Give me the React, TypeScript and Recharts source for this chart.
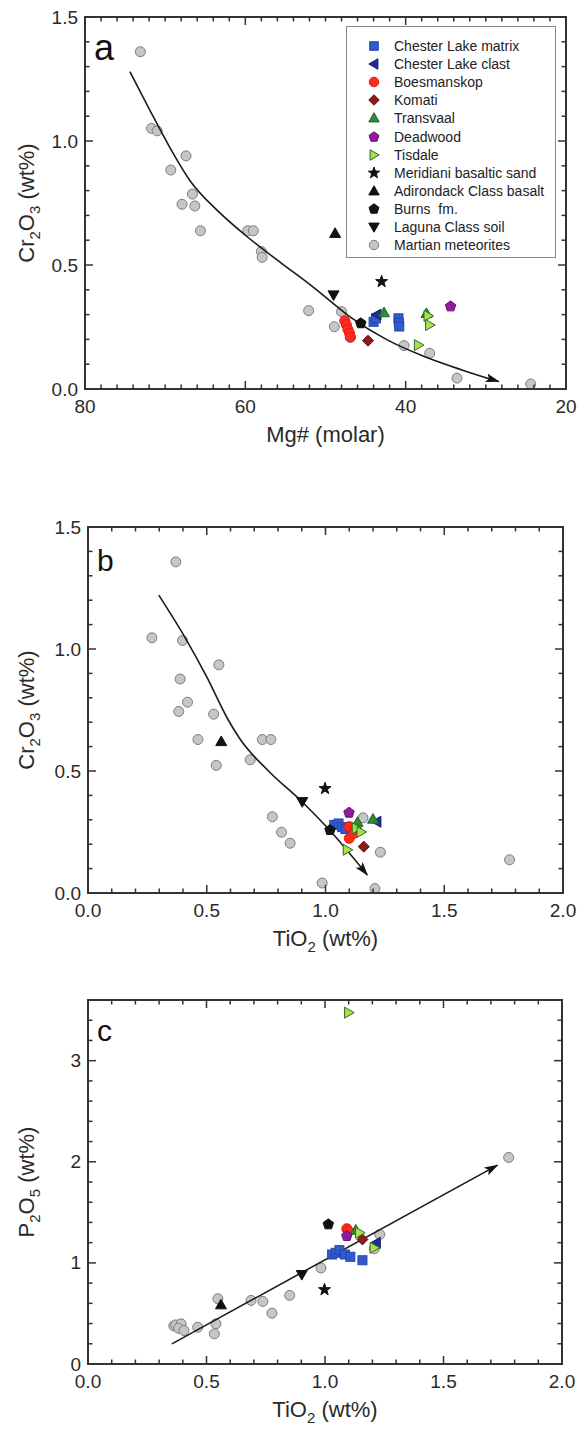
import React from 'react';
import { ScatterChart, Scatter, XAxis, YAxis, Legend, Label } from 'recharts';

type P = [number, number];

// ---------- Panel a : Mg# (molar) vs Cr2O3 ----------
const meteoritesA: P[] = [[73.1, 1.36], [71.7, 1.051], [71.0, 1.041], [69.3, 0.883], [67.4, 0.94], [67.9, 0.745], [66.6, 0.786], [66.3, 0.738], [65.6, 0.638], [59.7, 0.638], [59.0, 0.638], [58.0, 0.554], [57.9, 0.531], [52.1, 0.316], [48.9, 0.251], [48.0, 0.312], [46.9, 0.208], [40.2, 0.175], [37.0, 0.144], [33.6, 0.044], [24.4, 0.02]];
const chesterMatrixA: P[] = [[44.0, 0.271], [43.7, 0.285], [40.9, 0.285], [40.85, 0.268], [40.8, 0.252]];
const chesterClastA: P[] = [[43.6, 0.3]];
const boesmanskopA: P[] = [[47.6, 0.275], [47.4, 0.259], [47.2, 0.24], [47.0, 0.225], [46.9, 0.21]];
const komatiA: P[] = [[44.7, 0.195]];
const transvaalA: P[] = [[42.7, 0.308], [37.4, 0.305]];
const deadwoodA: P[] = [[34.4, 0.333]];
const tisdaleA: P[] = [[37.2, 0.295], [37.0, 0.258], [38.4, 0.177]];
const meridianiA: P[] = [[43.0, 0.433]];
const adirondackA: P[] = [[48.8, 0.628]];
const burnsA: P[] = [[45.6, 0.265]];
const lagunaA: P[] = [[49.0, 0.379]];
const trendA: P[] = [[74.4, 1.28], [72, 1.13], [69, 0.95], [66.9, 0.84], [63.5, 0.72], [60, 0.62], [55.6, 0.51], [51.5, 0.41], [46.9, 0.29], [42.3, 0.198], [37.6, 0.13], [33, 0.077], [28.4, 0.03]];

// ---------- Panel b : TiO2 vs Cr2O3 ----------
const meteoritesB: P[] = [[0.37, 1.357], [0.269, 1.046], [0.398, 1.035], [0.551, 0.935], [0.388, 0.877], [0.419, 0.782], [0.382, 0.744], [0.529, 0.733], [0.463, 0.629], [0.734, 0.629], [0.77, 0.629], [0.54, 0.523], [0.683, 0.546], [0.776, 0.3125], [0.815, 0.249], [0.851, 0.204], [1.158, 0.308], [1.231, 0.167], [1.775, 0.136], [0.986, 0.041], [1.208, 0.018]];
const chesterMatrixB: P[] = [[1.037, 0.279], [1.055, 0.285], [1.07, 0.27], [1.084, 0.262], [1.107, 0.268]];
const chesterClastB: P[] = [[1.216, 0.292]];
const boesmanskopB: P[] = [[1.1, 0.272], [1.1, 0.224], [1.12, 0.245]];
const komatiB: P[] = [[1.161, 0.19]];
const transvaalB: P[] = [[1.2, 0.303], [1.135, 0.29]];
const deadwoodB: P[] = [[1.099, 0.329]];
const tisdaleB: P[] = [[1.13, 0.265], [1.15, 0.25], [1.092, 0.177]];
const meridianiB: P[] = [[0.998, 0.428]];
const adirondackB: P[] = [[0.561, 0.621]];
const burnsB: P[] = [[1.019, 0.258]];
const lagunaB: P[] = [[0.902, 0.374]];
const trendB: P[] = [[0.298, 1.221], [0.407, 1.05], [0.5, 0.886], [0.59, 0.71], [0.64, 0.631], [0.76, 0.5], [0.901, 0.374], [1.029, 0.245], [1.176, 0.074]];

// ---------- Panel c : TiO2 vs P2O5 ----------
const meteoritesC: P[] = [[0.362, 0.377], [0.37, 0.387], [0.393, 0.397], [0.382, 0.354], [0.405, 0.331], [0.463, 0.364], [0.54, 0.397], [0.533, 0.298], [0.548, 0.646], [0.688, 0.629], [0.738, 0.619], [0.776, 0.503], [0.851, 0.679], [0.983, 0.95], [1.231, 1.281], [1.208, 1.139], [1.775, 2.043]];
const chesterMatrixC: P[] = [[1.03, 1.083], [1.045, 1.1], [1.061, 1.126], [1.084, 1.083], [1.107, 1.06], [1.158, 1.026]];
const chesterClastC: P[] = [[1.216, 1.199]];
const boesmanskopC: P[] = [[1.092, 1.338], [1.099, 1.315]];
const komatiC: P[] = [[1.158, 1.232]];
const transvaalC: P[] = [[1.13, 1.325]];
const deadwoodC: P[] = [[1.092, 1.265]];
const tisdaleC: P[] = [[1.146, 1.298], [1.208, 1.149], [1.1, 3.475]];
const meridianiC: P[] = [[0.998, 0.735]];
const adirondackC: P[] = [[0.561, 0.586]];
const burnsC: P[] = [[1.014, 1.381]];
const lagunaC: P[] = [[0.902, 0.884]];
const trendC: P[] = [[0.354, 0.199], [1.728, 1.967]];

// ---------- Axis ticks ----------
const mgMajor = [80, 60, 40, 20];
const crMajor = [0, 0.5, 1.0, 1.5];
const tiMajor = [0, 0.5, 1.0, 1.5, 2.0];
const pMajor = [0, 1, 2, 3];

const range = (a: number, b: number, s: number) => {
  const out: number[] = [];
  for (let v = a; v <= b + 1e-9; v += s) out.push(Math.round(v * 1000) / 1000);
  return out;
};
const mgTicks = range(20, 80, 2);
const crTicks = range(0, 1.5, 0.1);
const tiTicks = range(0, 2, 0.1);
const pTicks = range(0, 3.6, 0.2);

const FONT = '"Liberation Sans", Arial, Helvetica, sans-serif';
const INK = '#2a2a2a';
const FRAME = '#333333';

type Kind = 'square' | 'triLeft' | 'circle' | 'diamond' | 'triUp' | 'pentagon' | 'triRight' | 'star' | 'triDown';
interface Sty { name: string; kind: Kind; fill: string; stroke: string; size: number }

const legendOrder: Sty[] = [
  { name: 'Chester Lake matrix', kind: 'square', fill: '#2f5bcf', stroke: '#2446a8', size: 10 },
  { name: 'Chester Lake clast', kind: 'triLeft', fill: '#1f2e9c', stroke: '#15206e', size: 11 },
  { name: 'Boesmanskop', kind: 'circle', fill: '#ff2b1c', stroke: '#e01a10', size: 10 },
  { name: 'Komati', kind: 'diamond', fill: '#8d1b1b', stroke: '#5e0f0f', size: 11 },
  { name: 'Transvaal', kind: 'triUp', fill: '#2f8c36', stroke: '#1e6624', size: 11 },
  { name: 'Deadwood', kind: 'pentagon', fill: '#8f1c9c', stroke: '#6a1273', size: 11 },
  { name: 'Tisdale', kind: 'triRight', fill: '#a8e04c', stroke: '#2f6d1c', size: 11 },
  { name: 'Meridiani basaltic sand', kind: 'star', fill: '#111', stroke: '#111', size: 12 },
  { name: 'Adirondack Class basalt', kind: 'triUp', fill: '#111', stroke: '#111', size: 11 },
  { name: 'Burns  fm.', kind: 'pentagon', fill: '#111', stroke: '#111', size: 11 },
  { name: 'Laguna Class soil', kind: 'triDown', fill: '#111', stroke: '#111', size: 11 },
  { name: 'Martian meteorites', kind: 'circle', fill: '#c6c6c6', stroke: '#7d7d7d', size: 10 },
];

const Glyph = ({ kind, cx, cy, s, fill, stroke }: { kind: Kind; cx: number; cy: number; s: number; fill: string; stroke: string }) => {
  const h = s / 2;
  const common = { fill, stroke, strokeWidth: 1 };
  const poly = (pts: number[][]) => <polygon points={pts.map((p) => `${p[0]},${p[1]}`).join(' ')} {...common} />;
  switch (kind) {
    case 'circle':
      return <circle cx={cx} cy={cy} r={h} {...common} />;
    case 'square':
      return <rect x={cx - h * 0.9} y={cy - h * 0.9} width={s * 0.9} height={s * 0.9} {...common} />;
    case 'triUp':
      return poly([[cx, cy - h], [cx + h, cy + h * 0.75], [cx - h, cy + h * 0.75]]);
    case 'triDown':
      return poly([[cx, cy + h], [cx + h, cy - h * 0.75], [cx - h, cy - h * 0.75]]);
    case 'triLeft':
      return poly([[cx - h, cy], [cx + h * 0.75, cy - h], [cx + h * 0.75, cy + h]]);
    case 'triRight':
      return poly([[cx + h, cy], [cx - h * 0.75, cy - h], [cx - h * 0.75, cy + h]]);
    case 'diamond':
      return poly([[cx, cy - h], [cx + h, cy], [cx, cy + h], [cx - h, cy]]);
    case 'pentagon': {
      const pts: number[][] = [];
      for (let i = 0; i < 5; i++) {
        const a = -Math.PI / 2 + (i * 2 * Math.PI) / 5;
        pts.push([cx + h * Math.cos(a), cy + h * Math.sin(a)]);
      }
      return poly(pts);
    }
    case 'star': {
      const pts: number[][] = [];
      for (let i = 0; i < 10; i++) {
        const a = -Math.PI / 2 + (i * Math.PI) / 5;
        const r = i % 2 === 0 ? h * 1.05 : h * 0.42;
        pts.push([cx + r * Math.cos(a), cy + r * Math.sin(a)]);
      }
      return poly(pts);
    }
  }
  return null;
};

const shapeOf = (st: Sty) => (p: any) => <Glyph kind={st.kind} cx={p.cx} cy={p.cy} s={st.size} fill={st.fill} stroke={st.stroke} />;

const toPts = (arr: P[]) => arr.map(([x, y]) => ({ x, y }));

const isMajor = (majors: number[], v: number) => majors.some((m) => Math.abs(m - v) < 1e-6);

const makeLabel = (side: 'bottom' | 'left', majors: number[], fmt: (v: number) => string) => (props: any) => {
  const { x, y, payload } = props;
  const v = payload.value as number;
  if (!isMajor(majors, v)) return <g />;
  if (side === 'bottom')
    return <text x={x} y={y + 24} textAnchor="middle" fontSize={19} fontFamily={FONT} fill={INK}>{fmt(v)}</text>;
  return <text x={x - 7} y={y + 6.5} textAnchor="end" fontSize={19} fontFamily={FONT} fill={INK}>{fmt(v)}</text>;
};

type Edge = 'b' | 't' | 'l' | 'r';
const tickShape = (edge: Edge) => (props: any) => {
  const { cx, cy } = props;
  const major = props.payload ? props.payload.major : props.major;
  const len = major ? 8 : 4.5;
  const w = 1.5;
  if (edge === 'b') return <rect x={cx - w / 2} y={cy - len} width={w} height={len} fill={FRAME} />;
  if (edge === 't') return <rect x={cx - w / 2} y={cy} width={w} height={len} fill={FRAME} />;
  if (edge === 'l') return <rect x={cx} y={cy - w / 2} width={len} height={w} fill={FRAME} />;
  return <rect x={cx - len} y={cy - w / 2} width={len} height={w} fill={FRAME} />;
};
const tickShapes = { b: tickShape('b'), t: tickShape('t'), l: tickShape('l'), r: tickShape('r') };

const CR_TITLE: [string, boolean][] = [['Cr', false], ['2', true], ['O', false], ['3', true], [' (wt%)', false]];
const P_TITLE: [string, boolean][] = [['P', false], ['2', true], ['O', false], ['5', true], [' (wt%)', false]];
const TI_TITLE: [string, boolean][] = [['TiO', false], ['2', true], [' (wt%)', false]];
const MG_TITLE: [string, boolean][] = [['Mg# (molar)', false]];

const rich = (parts: [string, boolean][]) => {
  let shifted = false;
  return parts.map(([t, sub], i) => {
    let dy = 0;
    if (sub && !shifted) { dy = 6; shifted = true; }
    else if (!sub && shifted) { dy = -6; shifted = false; }
    return (
      <tspan key={i} dy={dy || undefined} fontSize={sub ? '68%' : undefined}>{t}</tspan>
    );
  });
};

const yTitle = (parts: [string, boolean][], letter: string, letterSize: number, letterDy: number) => (props: any) => {
  const vb = props.viewBox || {};
  const cy = vb.y + vb.height / 2;
  const bx = 34;
  return (
    <g>
      <text x={bx} y={cy} transform={`rotate(-90, ${bx}, ${cy})`} textAnchor="middle" fontSize={22} fontFamily={FONT} fill={INK}>
        {rich(parts)}
      </text>
      <text x={vb.x + vb.width + 9} y={vb.y + letterDy} fontSize={letterSize} fontFamily={FONT} fill="#111">
        {letter}
      </text>
    </g>
  );
};

const xTitle = (parts: [string, boolean][]) => (props: any) => {
  const vb = props.viewBox || {};
  const cx = vb.x + vb.width / 2;
  return (
    <text x={cx} y={vb.y + 53} textAnchor="middle" fontSize={22} fontFamily={FONT} fill={INK}>
      {rich(parts)}
    </text>
  );
};

const LegendBox = () => (
  <div style={{ width: 210, height: 232, boxSizing: 'border-box', border: '1px solid #8a8a8a', background: '#fff', paddingTop: 10, fontFamily: FONT }}>
    {legendOrder.map((st) => (
      <div key={st.name} style={{ display: 'flex', alignItems: 'center', height: 18.1 }}>
        <svg width={14} height={14} style={{ marginLeft: 20, marginRight: 13, flex: 'none' }}>
          <Glyph kind={st.kind} cx={7} cy={7} s={st.size * 0.95} fill={st.fill} stroke={st.stroke} />
        </svg>
        <span style={{ fontSize: 14, color: '#222', whiteSpace: 'pre', lineHeight: '18px' }}>{st.name}</span>
      </div>
    ))}
  </div>
);

interface PanelData {
  meteorites: P[]; chesterMatrix: P[]; chesterClast: P[]; boesmanskop: P[]; komati: P[]; transvaal: P[];
  deadwood: P[]; tisdale: P[]; meridiani: P[]; adirondack: P[]; burns: P[]; laguna: P[]; trend: P[];
}

const seriesOf = (d: PanelData) => [
  d.chesterMatrix, d.chesterClast, d.boesmanskop, d.komati, d.transvaal, d.deadwood, d.tisdale,
  d.meridiani, d.adirondack, d.burns, d.laguna,
];

type Margin = { top: number; right: number; bottom: number; left: number };
interface PanelProps {
  top: number; height: number; margin: Margin; yWidth: number; plot: Margin;
  xDomain: [number, number]; xTicks: number[]; xMajor: number[]; xFmt: (v: number) => string; reversed?: boolean;
  yDomain: [number, number]; yTicks: number[]; yMajor: number[]; yFmt: (v: number) => string;
  xParts: [string, boolean][]; yParts: [string, boolean][]; letter: string; letterSize: number; letterDy: number;
  data: PanelData; legend?: boolean; curveType: 'monotoneX' | 'linear';
}

const FrameOverlay = (p: PanelProps) => {
  const xl = p.reversed ? p.xDomain[1] : p.xDomain[0];
  const xr = p.reversed ? p.xDomain[0] : p.xDomain[1];
  const [y0, y1] = p.yDomain;
  const bottomT = p.xTicks.map((v) => ({ x: v, y: y0, major: isMajor(p.xMajor, v) }));
  const topT = p.xTicks.map((v) => ({ x: v, y: y1, major: isMajor(p.xMajor, v) }));
  const leftT = p.yTicks.map((v) => ({ x: xl, y: v, major: isMajor(p.yMajor, v) }));
  const rightT = p.yTicks.map((v) => ({ x: xr, y: v, major: isMajor(p.yMajor, v) }));
  const frameTR = [{ x: xl, y: y0 }, { x: xl, y: y1 }, { x: xr, y: y1 }, { x: xr, y: y0 }, { x: xl, y: y0 }];
  const pl = p.plot;
  return (
    <div style={{ position: 'absolute', left: 0, top: p.top, pointerEvents: 'none' }}>
      <div style={{ position: 'absolute', left: pl.left - 1, top: pl.top - 1, width: 579 - pl.left - pl.right + 2, height: p.height - pl.top - pl.bottom + 2, boxSizing: 'border-box', border: `2px solid ${FRAME}` }} />
      <div style={{ position: 'absolute', left: 0, top: 0 }}>
        <ScatterChart width={579} height={p.height} margin={pl}>
          <XAxis dataKey="x" type="number" domain={p.xDomain} reversed={p.reversed} hide />
          <YAxis dataKey="y" type="number" domain={p.yDomain} hide />
          <Scatter name="frame" data={frameTR} line={{ stroke: FRAME, strokeWidth: 1.8 }} shape={() => <g />} isAnimationActive={false} />
          <Scatter name="ticks bottom" data={bottomT} shape={tickShapes.b} isAnimationActive={false} />
          <Scatter name="ticks top" data={topT} shape={tickShapes.t} isAnimationActive={false} />
          <Scatter name="ticks left" data={leftT} shape={tickShapes.l} isAnimationActive={false} />
          <Scatter name="ticks right" data={rightT} shape={tickShapes.r} isAnimationActive={false} />
        </ScatterChart>
      </div>
    </div>
  );
};

const Panel = (p: PanelProps) => {
  const cols = seriesOf(p.data);
  const met = legendOrder[11];
  return (
    <div style={{ position: 'absolute', left: 0, top: p.top }}>
      <ScatterChart width={579} height={p.height} margin={p.margin}>
        <XAxis dataKey="x" type="number" domain={p.xDomain} ticks={p.xTicks} reversed={p.reversed} interval={0}
          height={60} tickSize={0} tickMargin={0} tickLine={false} axisLine={{ stroke: FRAME, strokeWidth: 1.8 }}
          tick={makeLabel('bottom', p.xMajor, p.xFmt)}>
          <Label content={xTitle(p.xParts)} />
        </XAxis>
        <YAxis dataKey="y" type="number" domain={p.yDomain} ticks={p.yTicks} interval={0} width={p.yWidth}
          tickSize={0} tickMargin={0} tickLine={false} axisLine={{ stroke: FRAME, strokeWidth: 1.8 }}
          tick={makeLabel('left', p.yMajor, p.yFmt)}>
          <Label content={yTitle(p.yParts, p.letter, p.letterSize, p.letterDy)} />
        </YAxis>
        {p.legend && (
          <Legend layout="horizontal" align="center" verticalAlign="middle" content={() => <LegendBox />}
            wrapperStyle={{ left: 346, top: 26, width: 210, height: 232 }} />
        )}
        <Scatter name="Martian meteorites" data={toPts(p.data.meteorites)} shape={shapeOf(met)} isAnimationActive={false} />
        <Scatter name="trend" data={toPts(p.data.trend)} line={{ stroke: '#1a1a1a', strokeWidth: 1.6, markerEnd: 'url(#arrowHead)' }} lineJointType={p.curveType}
          shape={() => <g />} isAnimationActive={false} />
        {cols.map((arr, i) => (
          <Scatter key={legendOrder[i].name} name={legendOrder[i].name} data={toPts(arr)} shape={shapeOf(legendOrder[i])} isAnimationActive={false} />
        ))}
      </ScatterChart>
    </div>
  );
};

const f1 = (v: number) => v.toFixed(1);
const f0 = (v: number) => v.toFixed(0);

const panelA: PanelProps = {
  top: 0, height: 470, margin: { top: 17, right: 13, bottom: 21, left: 0 }, yWidth: 85, plot: { top: 17, right: 13, bottom: 81, left: 85 },
  xDomain: [20, 80], xTicks: mgTicks, xMajor: mgMajor, xFmt: f0, reversed: true,
  yDomain: [0, 1.5], yTicks: crTicks, yMajor: crMajor, yFmt: f1,
  xParts: MG_TITLE, yParts: CR_TITLE, letter: 'a', letterSize: 36, letterDy: 43, legend: true, curveType: 'monotoneX',
  data: { meteorites: meteoritesA, chesterMatrix: chesterMatrixA, chesterClast: chesterClastA, boesmanskop: boesmanskopA, komati: komatiA, transvaal: transvaalA, deadwood: deadwoodA, tisdale: tisdaleA, meridiani: meridianiA, adirondack: adirondackA, burns: burnsA, laguna: lagunaA, trend: trendA },
};
const panelB: PanelProps = {
  top: 480, height: 480, margin: { top: 47, right: 16, bottom: 7, left: 0 }, yWidth: 88, plot: { top: 47, right: 16, bottom: 67, left: 88 },
  xDomain: [0, 2], xTicks: tiTicks, xMajor: tiMajor, xFmt: f1,
  yDomain: [0, 1.5], yTicks: crTicks, yMajor: crMajor, yFmt: f1,
  xParts: TI_TITLE, yParts: CR_TITLE, letter: 'b', letterSize: 30, letterDy: 44, curveType: 'monotoneX',
  data: { meteorites: meteoritesB, chesterMatrix: chesterMatrixB, chesterClast: chesterClastB, boesmanskop: boesmanskopB, komati: komatiB, transvaal: transvaalB, deadwood: deadwoodB, tisdale: tisdaleB, meridiani: meridianiB, adirondack: adirondackB, burns: burnsB, laguna: lagunaB, trend: trendB },
};
const panelC: PanelProps = {
  top: 960, height: 471, margin: { top: 40, right: 17, bottom: 7, left: 0 }, yWidth: 88, plot: { top: 40, right: 17, bottom: 67, left: 88 },
  xDomain: [0, 2], xTicks: tiTicks, xMajor: tiMajor, xFmt: f1,
  yDomain: [0, 3.6], yTicks: pTicks, yMajor: pMajor, yFmt: f0,
  xParts: TI_TITLE, yParts: P_TITLE, letter: 'c', letterSize: 30, letterDy: 41, curveType: 'linear',
  data: { meteorites: meteoritesC, chesterMatrix: chesterMatrixC, chesterClast: chesterClastC, boesmanskop: boesmanskopC, komati: komatiC, transvaal: transvaalC, deadwood: deadwoodC, tisdale: tisdaleC, meridiani: meridianiC, adirondack: adirondackC, burns: burnsC, laguna: lagunaC, trend: trendC },
};

export default function App() {
  return (
    <div style={{ position: 'absolute', left: 0, top: 0, width: 579, height: 1431, background: '#fff', fontFamily: FONT }}>
      <svg width={0} height={0} style={{ position: 'absolute' }}>
        <defs>
          <marker id="arrowHead" viewBox="0 0 14 9" refX={13} refY={4.5} markerWidth={14} markerHeight={9} markerUnits="userSpaceOnUse" orient="auto">
            <path d="M0,0 L14,4.5 L0,9 L3,4.5 z" fill="#111" />
          </marker>
        </defs>
      </svg>
      <Panel {...panelA} />
      <Panel {...panelB} />
      <Panel {...panelC} />
      <FrameOverlay {...panelA} />
      <FrameOverlay {...panelB} />
      <FrameOverlay {...panelC} />
    </div>
  );
}
